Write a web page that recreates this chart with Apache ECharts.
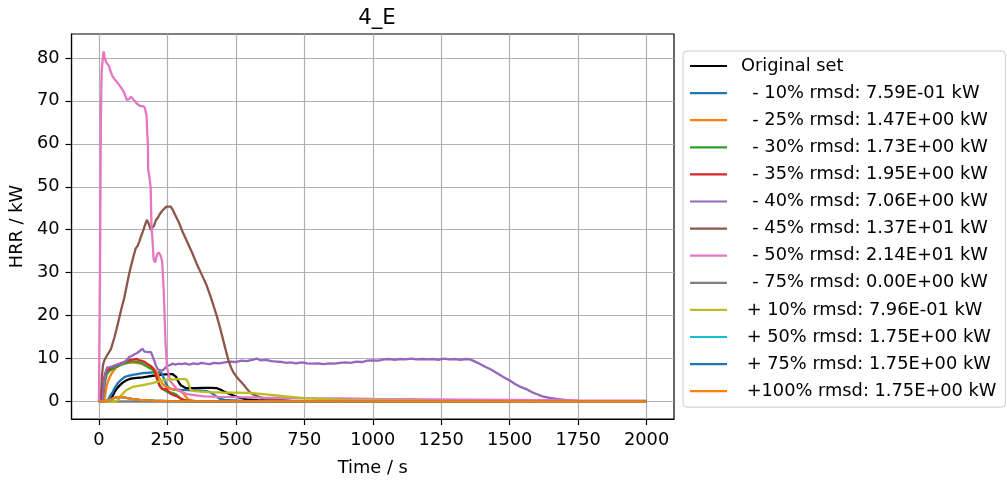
<!DOCTYPE html>
<html>
<head>
<meta charset="utf-8">
<script src="https://cdn.jsdelivr.net/npm/echarts@6/dist/echarts.min.js"></script>
<style>html,body{margin:0;padding:0;background:#fff;}#c{width:1007px;height:482px;}</style>
</head>
<body>
<div id="c"></div>
<script>
const xTicks = [0, 250, 500, 750, 1000, 1250, 1500, 1750, 2000];
const yTicks = [0, 10, 20, 30, 40, 50, 60, 70, 80];

const seriesNames = [
  'Original set',
  '  - 10% rmsd: 7.59E-01 kW',
  '  - 25% rmsd: 1.47E+00 kW',
  '  - 30% rmsd: 1.73E+00 kW',
  '  - 35% rmsd: 1.95E+00 kW',
  '  - 40% rmsd: 7.06E+00 kW',
  '  - 45% rmsd: 1.37E+01 kW',
  '  - 50% rmsd: 2.14E+01 kW',
  '  - 75% rmsd: 0.00E+00 kW',
  ' + 10% rmsd: 7.96E-01 kW',
  ' + 50% rmsd: 1.75E+00 kW',
  ' + 75% rmsd: 1.75E+00 kW',
  ' +100% rmsd: 1.75E+00 kW'
];
const seriesColors = ['#000000','#1f77b4','#ff7f0e','#2ca02c','#d62728','#9467bd','#8c564b','#e377c2','#7f7f7f','#bcbd22','#17becf','#1f77b4','#ff7f0e'];

const original = [[0,0],[35,0],[40,0.2],[45,0.6],[50,1.3],[57,2.2],[65,3.0],[75,3.7],[87,4.4],[99,4.9],[110,5.2],[123,5.4],[140,5.5],[160,5.6],[178,5.8],[196,6.0],[210,6.1],[220,6.2],[240,6.3],[257,6.4],[268,6.4],[275,6.2],[281,5.8],[287,5.0],[293,4.3],[299,3.8],[305,3.4],[315,3.2],[350,3.1],[380,3.2],[410,3.2],[431,3.1],[443,2.8],[455,2.4],[468,2.0],[480,1.7],[491,1.4],[503,1.1],[520,0.8],[540,0.5],[560,0.4],[580,0.3],[620,0.2],[650,0.15],[750,0.05],[900,0],[2000,0]];
const minus10 = [[0,0],[30,0],[35,0.4],[40,1.2],[50,2.2],[58,3.2],[68,4.2],[80,5.0],[93,5.7],[108,6.0],[123,6.2],[140,6.4],[160,6.6],[180,6.7],[196,6.8],[210,6.8],[222,6.8],[230,6.5],[236,5.6],[243,4.4],[250,3.6],[258,3.1],[270,2.8],[300,2.7],[350,2.6],[390,2.5],[405,2.2],[420,1.6],[432,1.0],[443,0.6],[460,0.4],[480,0.3],[520,0.15],[600,0.05],[700,0],[2000,0]];
const minus25 = [[0,0],[18,0],[22,1.0],[25,2.5],[30,4.0],[35,5.0],[45,6.4],[55,7.3],[63,7.9],[75,8.4],[87,8.7],[100,8.9],[111,9.0],[123,9.1],[135,9.0],[148,8.9],[160,8.7],[172,8.3],[184,7.9],[196,7.6],[208,7.2],[214,6.5],[220,5.6],[226,4.8],[232,4.1],[240,3.6],[250,3.3],[262,3.0],[275,2.8],[288,2.6],[300,2.3],[308,1.9],[316,1.2],[325,0.6],[334,0.3],[350,0.15],[380,0.05],[450,0],[2000,0]];
const minus30 = [[0,0],[12,0],[16,1.5],[20,3.5],[24,5.0],[29,6.4],[38,7.1],[50,7.6],[62,8.0],[75,8.4],[87,8.7],[100,9.0],[112,9.2],[123,9.3],[135,9.3],[148,9.1],[160,8.8],[172,8.3],[185,7.8],[196,7.4],[202,7.0],[208,6.2],[214,4.9],[220,4.0],[226,3.4],[232,3.0],[240,2.6],[250,2.2],[260,2.1],[268,2.0],[281,1.7],[293,1.0],[305,0.5],[320,0.2],[340,0.1],[400,0],[2000,0]];
const minus35 = [[0,0],[8,0],[11,1.5],[14,3.0],[18,5.0],[22,6.4],[28,7.1],[35,7.5],[45,7.9],[56,8.3],[68,8.6],[80,8.9],[92,9.2],[104,9.5],[116,9.7],[128,9.8],[138,9.9],[148,9.6],[156,9.5],[164,9.3],[176,8.8],[189,8.3],[200,7.6],[207,6.4],[214,5.0],[222,3.6],[231,2.9],[240,2.9],[249,2.8],[255,2.3],[261,1.8],[275,1.4],[286,1.2],[293,0.9],[300,0.6],[310,0.35],[320,0.2],[350,0.05],[400,0],[2000,0]];
const minus40 = [[0,0],[12,0],[16,2],[20,5],[25,7],[30,7.9],[40,8.0],[50,8.2],[60,8.4],[75,8.7],[85,8.8],[95,9.3],[105,9.9],[111,10.4],[120,10.6],[130,11.0],[140,11.3],[148,11.7],[155,12.0],[160,12.3],[166,11.6],[172,11.3],[180,11.5],[186,11.3],[190,11.5],[196,10.5],[202,9.5],[208,8.4],[214,7.6],[222,7.3],[232,7.2],[240,7.7],[250,8.3],[260,8.5],[268,8.8],[280,8.6],[290,8.8],[300,8.7],[315,8.9],[330,8.6],[345,8.9],[360,8.7],[375,9.0],[390,8.8],[405,8.7],[420,9.0],[440,8.9],[460,9.1],[480,9.3],[500,9.2],[520,9.5],[540,9.4],[560,9.7],[576,10.0],[590,9.6],[610,9.7],[630,9.4],[650,9.3],[670,9.2],[685,9.0],[700,9.1],[720,8.9],[740,9.1],[760,8.9],[780,8.8],[800,8.9],[820,8.7],[840,8.9],[860,8.8],[880,9.0],[900,9.1],[920,9.0],[940,9.3],[960,9.2],[980,9.5],[1000,9.6],[1020,9.5],[1040,9.8],[1060,9.9],[1080,9.7],[1100,9.9],[1120,9.8],[1140,10.0],[1160,9.8],[1180,9.9],[1200,9.8],[1220,9.9],[1240,9.7],[1260,10.0],[1280,9.8],[1300,9.9],[1320,9.7],[1340,9.9],[1355,9.8],[1370,9.4],[1390,8.8],[1410,8.1],[1430,7.5],[1459,6.4],[1480,5.6],[1500,4.9],[1520,4.1],[1540,3.4],[1560,2.9],[1580,2.2],[1600,1.7],[1620,1.2],[1641,0.9],[1670,0.6],[1701,0.4],[1730,0.2],[1760,0.1],[1800,0.05],[2000,0]];
const minus45 = [[0,0],[5,0],[8,2],[11,6],[15,8.5],[20,9.6],[25,10.2],[32,11],[44,12.2],[56,14.8],[65,17],[74,19.4],[83,21.8],[92,24],[100,26.5],[108,29],[115,31],[125,33.5],[134,35.6],[141,36.2],[148,37.3],[153,38.3],[160,39.5],[168,41],[175,42.3],[179,42.5],[183,41.2],[189,40.0],[195,39.8],[200,40.8],[208,42.2],[215,42.8],[222,43.6],[230,44.3],[240,45.0],[248,45.4],[255,45.7],[262,45.4],[270,44.6],[278,43.5],[285,42.6],[292,41.7],[305,39.6],[323,37.1],[340,34.7],[357,32.1],[375,29.6],[393,27.1],[410,24.0],[430,20.0],[443,17],[455,14.0],[465,11.5],[473,9.6],[482,8.0],[491,6.8],[500,6.0],[510,5.2],[527,4.0],[540,3.0],[552,2.1],[565,1.6],[580,1.2],[600,0.8],[620,0.6],[650,0.4],[700,0.2],[800,0.1],[1000,0.05],[1200,0],[2000,0]];
const minus50 = [[0,0],[2,0],[4,30],[7,65],[10,77],[17,81.5],[21,80.2],[25,79.2],[31,78.6],[37,78.1],[43,76.8],[49,75.8],[58,75.0],[67,74.3],[80,73.2],[92,72.0],[102,70.2],[110,70.4],[118,71.0],[122,70.8],[130,70.0],[140,69.3],[150,68.8],[159,68.8],[167,68.5],[174,66.6],[177,62],[179,59.7],[180,54],[184,52.5],[189,49.8],[192,40.6],[195,38.3],[200,33.0],[205,32.4],[212,34.2],[219,34.7],[225,34.0],[231,32.6],[237,25.4],[243,13.9],[249,7.8],[261,4.7],[286,2.8],[322,1.7],[383,1.2],[440,1.1],[503,1.0],[600,0.9],[750,0.8],[880,0.75],[1000,0.6],[1200,0.5],[1500,0.35],[1750,0.25],[2000,0.2]];
const minus75 = [[0,0],[2000,0]];
const plus10 = [[0,0],[60,0],[69,0.3],[81,1.4],[99,2.6],[123,3.4],[160,3.8],[196,4.3],[232,4.9],[257,5.1],[290,5.2],[318,5.2],[325,4.5],[334,2.8],[345,2.4],[400,2.2],[450,2.1],[550,2.0],[600,1.7],[650,1.4],[700,1.1],[750,0.8],[800,0.6],[900,0.4],[1000,0.3],[1200,0.15],[1500,0.05],[2000,0]];
const plus50 = [[0,0],[20,0.1],[35,0.3],[45,0.5],[55,0.8],[65,1.0],[80,1.0],[95,0.9],[120,0.6],[150,0.4],[200,0.2],[250,0.1],[350,0.05],[2000,0]];
const plus75 = [[0,0],[20,0.1],[35,0.3],[45,0.5],[55,0.8],[65,1.0],[80,1.0],[95,0.9],[120,0.6],[150,0.4],[200,0.2],[250,0.1],[350,0.05],[2000,0]];
const plus100 = [[0,0],[20,0.1],[35,0.3],[45,0.5],[55,0.8],[65,1.0],[80,1.0],[95,0.9],[120,0.6],[150,0.4],[200,0.2],[250,0.1],[350,0.05],[2000,0]];

const seriesData = [original, minus10, minus25, minus30, minus35, minus40, minus45, minus50, minus75, plus10, plus50, plus75, plus100];

const FONT = 'DejaVu Sans';
const FS = 17.8;
const plainNum = v => String(v);

const chart = echarts.init(document.getElementById('c'), null, {renderer: 'canvas'});
chart.setOption({
  animation: false,
  backgroundColor: '#ffffff',
  title: {
    text: '4_E',
    left: 372, top: 3, textAlign: 'center',
    textStyle: {fontFamily: FONT, fontSize: 21.3, fontWeight: 'normal', color: '#000'}
  },
  grid: {
    left: 70, right: 333, top: 34, bottom: 57,
    show: true, borderColor: '#000', borderWidth: 1.2, backgroundColor: 'transparent'
  },
  legend: {
    orient: 'vertical', left: 683, top: 51,
    data: seriesNames,
    icon: 'rect',
    itemWidth: 37, itemHeight: 2.2, itemGap: 9.1,
    padding: [6, 9, 7, 7],
    backgroundColor: 'rgba(255,255,255,0.8)', borderColor: '#cccccc', borderWidth: 1, borderRadius: 4,
    textStyle: {fontFamily: FONT, fontSize: FS, color: '#000', lineHeight: 18, padding: [0, 0, 0, 9]},
    selectedMode: false
  },
  xAxis: {
    type: 'value', min: -100, max: 2100,
    name: 'Time / s', nameLocation: 'middle', nameGap: 40,
    nameTextStyle: {fontFamily: FONT, fontSize: FS, color: '#000'},
    axisLine: {show: true, onZero: false, lineStyle: {color: '#000', width: 1.2}},
    axisTick: {show: true, inside: false, length: 6, customValues: xTicks, lineStyle: {color: '#000', width: 1.2}},
    axisLabel: {customValues: xTicks, formatter: plainNum, margin: 12, fontFamily: FONT, fontSize: FS, color: '#000'},
    splitLine: {show: true, lineStyle: {color: '#b0b0b0', width: 1.2}}
  },
  yAxis: {
    type: 'value', min: -4.07, max: 85.57,
    name: 'HRR / kW', nameLocation: 'middle', nameGap: 42,
    nameTextStyle: {fontFamily: FONT, fontSize: FS, color: '#000'},
    axisLine: {show: true, onZero: false, lineStyle: {color: '#000', width: 1.2}},
    axisTick: {show: true, inside: false, length: 6, customValues: yTicks, lineStyle: {color: '#000', width: 1.2}},
    axisLabel: {customValues: yTicks, formatter: plainNum, margin: 12, fontFamily: FONT, fontSize: FS, color: '#000'},
    splitLine: {show: true, lineStyle: {color: '#b0b0b0', width: 1.2}}
  },
  series: seriesNames.map((n, i) => ({
    name: n, type: 'line', data: seriesData[i],
    symbol: 'none', showSymbol: false, smooth: false,
    color: seriesColors[i],
    itemStyle: {color: seriesColors[i]},
    lineStyle: {color: seriesColors[i], width: 2.3},
    emphasis: {disabled: true}
  }))
});
</script>
</body>
</html>
